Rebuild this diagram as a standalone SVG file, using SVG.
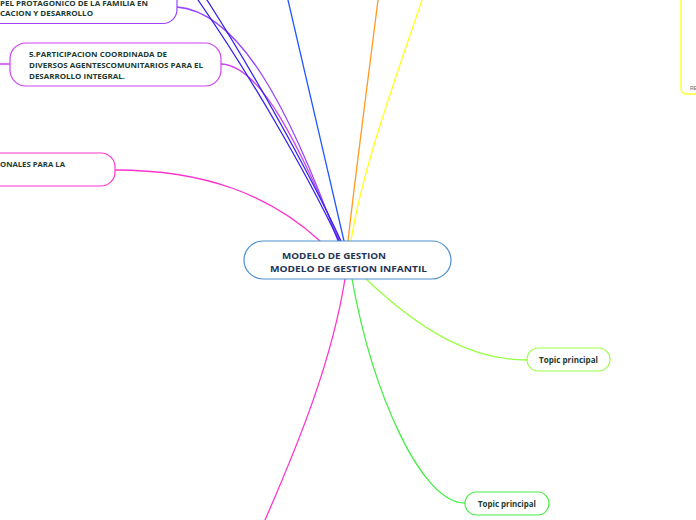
<svg xmlns="http://www.w3.org/2000/svg" width="696" height="520" viewBox="0 0 696 520">
<style>
.c{fill:none;stroke-width:1.3;stroke-linecap:round}
.n{fill:#fff;stroke-width:1.2}
.t{font-family:"Open Sans","Noto Sans","Liberation Sans",sans-serif;font-weight:bold;fill:#1d3b30}
.ct{font-family:"Open Sans","Noto Sans","Liberation Sans",sans-serif;font-weight:bold;fill:#1f3556;font-size:9.5px}
</style>
<rect width="696" height="520" fill="#fff"/>
<g id="connectors">
<path class="c" stroke="#ff33cc" d="M115,170 C205,170 270,195 320,241"/>
<path class="c" stroke="#cc44ee" d="M220,64 C262,64 300,150 340,241"/>
<path class="c" stroke="#cc44ee" d="M0,64 L10,64"/>
<path class="c" stroke="#9944ff" d="M177,7 C240,12 290,110 338,241"/>
<path class="c" stroke="#3322ee" d="M198,0 C250,75 305,170 339,241"/>
<path class="c" stroke="#3322ee" d="M207,0 C255,75 308,170 341,241"/>
<path class="c" stroke="#2255ff" d="M288,0 C305,70 325,160 344,241"/>
<path class="c" stroke="#ff9922" d="M378,0 C368,80 356,170 348,241"/>
<path class="c" stroke="#ffff22" d="M422,0 C395,80 362,170 351,241"/>
<path class="c" stroke="#ffff22" d="M681,0 L681,88 Q681,94 687,94 L696,94"/>
<path class="c" stroke="#99ff44" d="M366,279 C420,330 470,360 527,360"/>
<path class="c" stroke="#44ee44" d="M352,279 C372,390 420,503 465,503"/>
<path class="c" stroke="#ff33cc" d="M345,279 C332,360 300,440 265,520"/>
</g>
<g id="node-center">
<rect class="n" x="244" y="241" width="207" height="38" rx="19" stroke="#4f91cf"/>
<text class="ct" x="282" y="259" textLength="104" lengthAdjust="spacingAndGlyphs">MODELO DE GESTION</text>
<text class="ct" x="270" y="272" textLength="157" lengthAdjust="spacingAndGlyphs">MODELO DE GESTION INFANTIL</text>
</g>
<g id="node-familia">
<rect class="n" x="-30" y="-20" width="207" height="43.5" rx="14" stroke="#9944ff"/>
<text class="t" font-size="7.7" x="0" y="5.5" textLength="148" lengthAdjust="spacingAndGlyphs">PEL PROTAGONICO DE LA FAMILIA EN</text>
<text class="t" font-size="7.7" x="0" y="16" textLength="93" lengthAdjust="spacingAndGlyphs">CACION Y DESARROLLO</text>
</g>
<g id="node-5">
<rect class="n" x="10" y="43" width="211" height="43" rx="16" stroke="#cc44ee"/>
<text class="t" font-size="7.7" x="29" y="57" textLength="138" lengthAdjust="spacingAndGlyphs">5.PARTICIPACION COORDINADA DE</text>
<text class="t" font-size="7.7" x="29" y="68" textLength="174" lengthAdjust="spacingAndGlyphs">DIVERSOS AGENTESCOMUNITARIOS PARA EL</text>
<text class="t" font-size="7.7" x="29" y="79" textLength="96" lengthAdjust="spacingAndGlyphs">DESARROLLO INTEGRAL.</text>
</g>
<g id="node-onales">
<rect class="n" x="-30" y="153" width="145" height="33" rx="14" stroke="#ff33cc"/>
<text class="t" font-size="7.7" x="0" y="167" textLength="65" lengthAdjust="spacingAndGlyphs">ONALES PARA LA</text>
</g>
<g id="node-re">
<text x="690" y="90" font-family="Liberation Sans,sans-serif" font-size="5" fill="#666">RE</text>
</g>
<g id="node-topic1">
<rect class="n" x="527" y="348" width="83" height="23" rx="11.5" stroke="#99ff44"/>
<text class="t" font-size="8" x="539" y="362.5" textLength="59" lengthAdjust="spacingAndGlyphs">Topic principal</text>
</g>
<g id="node-topic2">
<rect class="n" x="465" y="492" width="84" height="23" rx="11.5" stroke="#44ee44"/>
<text class="t" font-size="8" x="478" y="506.5" textLength="58" lengthAdjust="spacingAndGlyphs">Topic principal</text>
</g>
</svg>
